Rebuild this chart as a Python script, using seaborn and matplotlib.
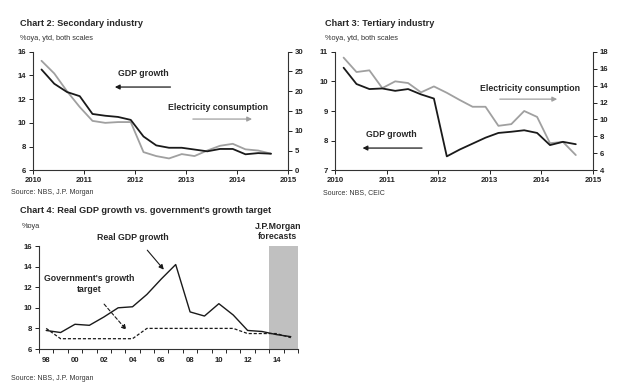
import matplotlib
matplotlib.use("Agg")
import matplotlib.pyplot as plt
import seaborn as sns
import pandas as pd

sns.set_theme(style="white")
plt.rcParams['font.family'] = ['Liberation Sans', 'DejaVu Sans']

# ---------------- data ----------------
quarters = ['2010Q1', '2010Q2', '2010Q3', '2010Q4', '2011Q1', '2011Q2', '2011Q3', '2011Q4',
            '2012Q1', '2012Q2', '2012Q3', '2012Q4', '2013Q1', '2013Q2', '2013Q3', '2013Q4',
            '2014Q1', '2014Q2', '2014Q3']
sec_gdp = [14.5, 13.3, 12.6, 12.25, 10.75, 10.6, 10.5, 10.25, 8.85, 8.1, 7.9, 7.9,
           7.75, 7.6, 7.8, 7.8, 7.35, 7.45, 7.4]
sec_elec = [27.7, 24.5, 20.0, 16.0, 12.5, 12.0, 12.2, 12.2, 4.6, 3.6, 3.0, 4.1,
            3.6, 5.0, 6.2, 6.7, 5.3, 5.0, 4.2]
ter_gdp = [10.46, 9.91, 9.74, 9.76, 9.68, 9.74, 9.56, 9.42, 7.47, 7.7, 7.9, 8.1,
           8.26, 8.3, 8.35, 8.26, 7.85, 7.96, 7.88]
ter_elec = [17.3, 15.6, 15.8, 13.7, 14.5, 14.3, 13.2, 13.9, 13.15, 12.3, 11.5, 11.5,
            9.25, 9.45, 11.0, 10.3, 7.2, 7.35, 5.8]

years = list(range(1998, 2016))
real_gdp = [7.8, 7.6, 8.4, 8.3, 9.1, 10.0, 10.1, 11.3, 12.8, 14.2, 9.6, 9.2, 10.4, 9.3,
            7.8, 7.7, 7.4, 7.2]
gov_target = [8.0, 7.0, 7.0, 7.0, 7.0, 7.0, 7.0, 8.0, 8.0, 8.0, 8.0, 8.0, 8.0, 8.0,
              7.5, 7.5, 7.5, 7.1]
year_labels = ['98', '00', '02', '04', '06', '08', '10', '12', '14']

# quarter -> decimal year (end-of-quarter month start)
qx = [int(q[:4]) + (3 * int(q[-1]) - 1) / 12 for q in quarters]

DARK = '#1a1a1a'
GRAY = '#a0a0a0'
TFS = 5.6
TITLE_FS = 6.6
fig = plt.figure(figsize=(6.4, 3.91), dpi=100)

def style_twin(ax, ax2):
    for a in (ax, ax2):
        for s in a.spines.values():
            s.set_visible(False)
        a.grid(False)
    ax.spines['left'].set_visible(True)
    ax.spines['bottom'].set_visible(True)
    ax2.spines['right'].set_visible(True)
    for s in (ax.spines['left'], ax.spines['bottom'], ax2.spines['right']):
        s.set_color('#333333'); s.set_linewidth(0.8)
    ax.tick_params(axis='both', which='both', direction='out', length=3, width=0.7,
                   labelsize=TFS, colors='#222222', left=True, bottom=True, pad=2)
    ax2.tick_params(axis='y', direction='out', length=3, width=0.7, labelsize=TFS,
                    colors='#222222', right=True, pad=2)
    for lab in ax.get_xticklabels() + ax.get_yticklabels() + ax2.get_yticklabels():
        lab.set_fontweight('bold')
    ax.set_xlabel(''); ax.set_ylabel(''); ax2.set_ylabel('')

# ---------------- Chart 2 ----------------
ax = fig.add_axes([33/640, 1-170.3/391, 255/640, 118.6/391])
ax2 = ax.twinx()
df2 = pd.DataFrame({'x': qx, 'gdp': sec_gdp, 'elec': sec_elec})
sns.lineplot(data=df2, x='x', y='elec', ax=ax2, color=GRAY, linewidth=1.3)
sns.lineplot(data=df2, x='x', y='gdp', ax=ax, color=DARK, linewidth=1.3)
ax.set_zorder(ax2.get_zorder() + 1); ax.patch.set_visible(False)
ax.set_xlim(2010, 2015); ax.set_xticks(range(2010, 2016))
ax.set_ylim(6, 16); ax.set_yticks(range(6, 17, 2))
ax2.set_ylim(0, 30); ax2.set_yticks(range(0, 31, 5))
style_twin(ax, ax2)
ax.text(2012.16, 14.2, 'GDP growth', ha='center', va='center', fontsize=6.3, fontweight='bold')
ax.annotate('', xy=(2011.55, 13.02), xytext=(2012.75, 13.02),
            arrowprops=dict(arrowstyle='-|>', color=DARK, lw=0.9, mutation_scale=7))
ax.text(2013.63, 11.33, 'Electricity consumption', ha='center', va='center', fontsize=6.3,
        fontweight='bold')
ax.annotate('', xy=(2014.35, 10.32), xytext=(2013.08, 10.32),
            arrowprops=dict(arrowstyle='-|>', color=GRAY, lw=0.9, mutation_scale=7))
fig.text(20/640, 1-18.5/391, 'Chart 2: Secondary industry', fontsize=TITLE_FS,
         fontweight='bold', va='top', ha='left')
fig.text(20/640, 1-38/391, '%oya, ytd, both scales', fontsize=5.3, va='center', ha='left',
         color='#333333')
fig.text(11/640, 1-193/391, 'Source: NBS, J.P. Morgan', fontsize=5, va='center', ha='left',
         color='#333333')

# ---------------- Chart 3 ----------------
ax = fig.add_axes([335/640, 1-170.3/391, 258/640, 118.6/391])
ax2 = ax.twinx()
df3 = pd.DataFrame({'x': qx, 'gdp': ter_gdp, 'elec': ter_elec})
sns.lineplot(data=df3, x='x', y='elec', ax=ax2, color=GRAY, linewidth=1.3)
sns.lineplot(data=df3, x='x', y='gdp', ax=ax, color=DARK, linewidth=1.3)
ax.set_zorder(ax2.get_zorder() + 1); ax.patch.set_visible(False)
ax.set_xlim(2010, 2015); ax.set_xticks(range(2010, 2016))
ax.set_ylim(7, 11); ax.set_yticks(range(7, 12))
ax2.set_ylim(4, 18); ax2.set_yticks(range(4, 19, 2))
style_twin(ax, ax2)
ax.text(2013.78, 9.77, 'Electricity consumption', ha='center', va='center', fontsize=6.3,
        fontweight='bold')
ax.annotate('', xy=(2014.36, 9.40), xytext=(2013.14, 9.40),
            arrowprops=dict(arrowstyle='-|>', color=GRAY, lw=0.9, mutation_scale=7))
ax.text(2011.1, 8.22, 'GDP growth', ha='center', va='center', fontsize=6.3, fontweight='bold')
ax.annotate('', xy=(2010.48, 7.75), xytext=(2011.74, 7.75),
            arrowprops=dict(arrowstyle='-|>', color=DARK, lw=0.9, mutation_scale=7))
fig.text(325/640, 1-18.5/391, 'Chart 3: Tertiary industry', fontsize=TITLE_FS,
         fontweight='bold', va='top', ha='left')
fig.text(325/640, 1-38/391, '%oya, ytd, both scales', fontsize=5.3, va='center', ha='left',
         color='#333333')
fig.text(323/640, 1-193/391, 'Source: NBS, CEIC', fontsize=5, va='center', ha='left',
         color='#333333')

# ---------------- Chart 4 ----------------
ax = fig.add_axes([39/640, 1-349/391, 259/640, 103/391])
df4 = pd.DataFrame({'year': years, 'real': real_gdp, 'target': gov_target})
ax.axvspan(2013.5, 2015.5, ymin=0, ymax=1, color='#c0c0c0', lw=0, zorder=0)
sns.lineplot(data=df4, x='year', y='real', ax=ax, color=DARK, linewidth=1.0)
sns.lineplot(data=df4, x='year', y='target', ax=ax, color=DARK, linewidth=0.9,
             linestyle=(0, (2.5, 1.5)))
ax.set_xlim(1997.5, 2015.5)
ax.set_ylim(6, 16); ax.set_yticks(range(6, 17, 2))
ax.set_xticks([y + 0.5 for y in range(1997, 2016)])
ax.set_xticklabels([])
ax.set_xticks(list(range(1998, 2015, 2)), minor=True)
ax.set_xticklabels(year_labels, minor=True)
for s in ax.spines.values():
    s.set_visible(False)
for k in ('left', 'bottom'):
    ax.spines[k].set_visible(True); ax.spines[k].set_color('#333333')
    ax.spines[k].set_linewidth(0.8)
ax.grid(False)
ax.tick_params(axis='x', which='major', direction='out', length=3, width=0.7, bottom=True)
ax.tick_params(axis='x', which='minor', length=0, labelsize=TFS, pad=6, colors='#222222',
               bottom=True)
ax.tick_params(axis='y', direction='out', length=3, width=0.7, labelsize=TFS, left=True,
               pad=2, colors='#222222')
for lab in ax.get_xticklabels(minor=True) + ax.get_yticklabels():
    lab.set_fontweight('bold')
ax.set_xlabel(''); ax.set_ylabel('')
ax.text(2004.03, 16.8, 'Real GDP growth', ha='center', va='center', fontsize=6.3,
        fontweight='bold', clip_on=False)
ax.annotate('', xy=(2006.3, 13.5), xytext=(2004.9, 15.8),
            arrowprops=dict(arrowstyle='-|>', color=DARK, lw=0.8, mutation_scale=7))
ax.text(2001.0, 12.35, "Government's growth\ntarget", ha='center', va='center', fontsize=6.3,
        fontweight='bold', linespacing=1.3)
ax.annotate('', xy=(2003.7, 7.65), xytext=(2001.9, 10.56),
            arrowprops=dict(arrowstyle='-|>', color=DARK, lw=0.8, mutation_scale=7,
                            linestyle=(0, (3, 2))))
ax.text(2014.1, 17.4, 'J.P.Morgan\nforecasts', ha='center', va='center', fontsize=6.3,
        fontweight='bold', linespacing=1.2, clip_on=False)
fig.text(20/640, 1-206/391, "Chart 4: Real GDP growth vs. government's growth target",
         fontsize=TITLE_FS, fontweight='bold', va='top', ha='left')
fig.text(22/640, 1-227/391, '%oya', fontsize=5.3, va='center', ha='left', color='#333333')
fig.text(11/640, 1-378/391, 'Source: NBS, J.P. Morgan', fontsize=5, va='center', ha='left',
         color='#333333')

fig.savefig('out.png', dpi=100)
